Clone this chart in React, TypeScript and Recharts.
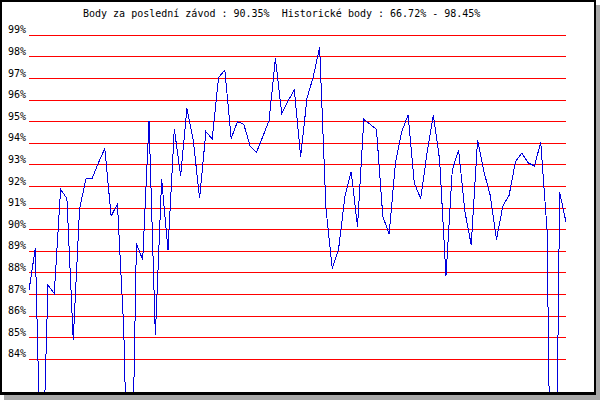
import { LineChart, Line, XAxis, YAxis, ReferenceLine } from 'recharts'

// score of each race, oldest first
const scores = [
  87.2, 89.15, 77.0, 87.44, 87.05, 91.87, 91.45, 84.9, 90.95, 92.35,
  92.38, 93.1, 93.77, 90.63, 91.19, 85.4, 73.0, 89.37, 88.6, 95.05,
  85.12, 92.33, 89.06, 94.68, 92.49, 95.62, 94.15, 91.45, 94.54, 94.2,
  97.04, 97.39, 94.23, 95.0, 94.88, 93.87, 93.58, 94.31, 95.05, 97.93,
  95.39, 95.96, 96.47, 93.38, 96.08, 97.08, 98.45, 91.0, 88.21, 89.1,
  91.53, 92.69, 90.14, 95.11, 94.88, 94.65, 90.63, 89.8, 93.07, 94.54,
  95.31, 92.14, 91.45, 93.54, 95.3, 93.23, 87.85, 92.76, 93.7, 90.83,
  89.3, 94.15, 92.7, 91.6, 89.55, 91.1, 91.6, 93.15, 93.55, 93.1,
  92.95, 94.05, 90.0, 66.72, 91.73, 90.35,
]

const yTicks = [84, 85, 86, 87, 88, 89, 90, 91, 92, 93, 94, 95, 96, 97, 98, 99]

const lastScore = '90.35%'
const historyRange = '66.72% - 98.45%'

const data = scores.map((score, i) => ({ race: i + 1, score }))

const font = '"DejaVu Sans Mono", monospace'

function PercentTick({ y, payload }: any) {
  return (
    <text x={26} y={y - 2} textAnchor="end" fontFamily={font} fontSize={10} fill="#000">
      {payload.value}%
    </text>
  )
}

export default function App() {
  return (
    <div style={{ position: 'absolute', left: 0, top: 0, width: 600, height: 400, background: '#fff' }}>
      <div
        style={{
          position: 'absolute',
          left: 0,
          top: 0,
          width: 592,
          height: 390,
          borderStyle: 'solid',
          borderColor: '#000',
          borderWidth: '2px 2px 3px 2px',
          boxShadow: '4px 5px 0 #a8a8a8',
          background: '#fff',
        }}
      />
      <div
        style={{
          position: 'absolute',
          left: 83,
          top: 8,
          fontFamily: font,
          fontSize: 10,
          lineHeight: '12px',
          whiteSpace: 'pre',
          color: '#000',
        }}
      >
        {`Body za poslední závod : ${lastScore}  Historické body : ${historyRange}`}
      </div>
      <div style={{ position: 'absolute', left: 0, top: 0 }}>
        <LineChart width={600} height={400} data={data} margin={{ top: 13.7, right: 34, bottom: 8, left: 0 }}>
          <XAxis dataKey="race" type="number" domain={['dataMin', 'dataMax']} hide />
          <YAxis
            type="number"
            domain={[82.49, 100]}
            ticks={yTicks}
            allowDataOverflow
            width={29}
            axisLine={false}
            tickLine={false}
            tick={<PercentTick />}
            interval={0}
          />
          {yTicks.map((t) => (
            <ReferenceLine key={t} y={t} stroke="#ff0000" strokeWidth={1} shapeRendering="crispEdges" />
          ))}
          <Line
            type="linear"
            dataKey="score"
            stroke="#0000dd"
            strokeWidth={1}
            dot={false}
            shapeRendering="crispEdges"
            isAnimationActive={false}
          />
        </LineChart>
      </div>
    </div>
  )
}
